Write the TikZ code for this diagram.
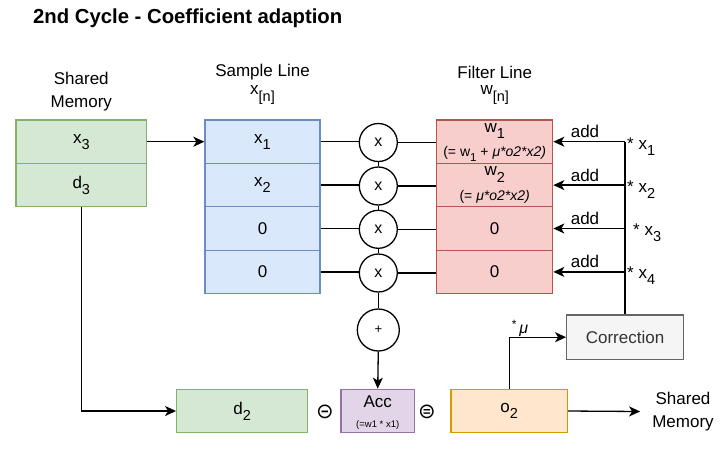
\documentclass[tikz,border=0pt]{standalone}
\usepackage{fontspec}
\setmainfont{Liberation Sans}
\newfontfamily\dejavu{DejaVu Sans}
\usetikzlibrary{arrows.meta}
\definecolor{gfill}{HTML}{D5E8D4}\definecolor{gdraw}{HTML}{82B366}
\definecolor{bfill}{HTML}{DAE8FC}\definecolor{bdraw}{HTML}{6C8EBF}
\definecolor{rfill}{HTML}{F8CECC}\definecolor{rdraw}{HTML}{B85450}
\definecolor{pfill}{HTML}{E1D5E7}\definecolor{pdraw}{HTML}{9673A6}
\definecolor{ofill}{HTML}{FFE6CC}\definecolor{odraw}{HTML}{D79B00}
\definecolor{kfill}{HTML}{F5F5F5}\definecolor{kdraw}{HTML}{666666}\definecolor{ktext}{HTML}{333333}
\newcommand\subs[2][14.5]{\raisebox{-0.36em}{\fontsize{#1}{#1}\selectfont #2}}
\begin{document}
\begin{tikzpicture}[x=1pt,y=-1pt,
  txt/.style={font=\fontsize{17}{22.5}\selectfont, align=center, inner sep=1pt},
  cell/.style={draw, line width=1.3pt, inner sep=0pt, minimum height=43.4pt, align=center, font=\fontsize{17}{22}\selectfont},
  gcell/.style={cell, fill=gfill, draw=gdraw, minimum width=130.7pt},
  bcell/.style={cell, fill=bfill, draw=bdraw, minimum width=115pt},
  rcell/.style={cell, fill=rfill, draw=rdraw, minimum width=116pt},
  mult/.style={circle, draw, line width=1.3pt, fill=white, minimum size=38pt, inner sep=0pt, font=\fontsize{16}{16}\selectfont},
  conn/.style={line width=1.3pt, draw=black},
  arr/.style={conn, -{Stealth[length=11pt,width=10pt,inset=3pt]}},
  sml/.style={font=\fontsize{14}{14}\selectfont}
]
\useasboundingbox (0,0) rectangle (727,448);
\node[anchor=west, inner sep=0pt, font=\bfseries\fontsize{20.3}{24}\selectfont] (title) at (33,18) {2nd Cycle - Coefficient adaption};

% headers
\node[txt] (hsm) at (81.3,91.5) {Shared\\Memory};
\node[txt] (hsl) at (262.5,72.5) {Sample Line};
\node[txt] (hslx) at (262.5,95) {x\subs{[n]}};
\node[txt] (hfl) at (494.7,72.5) {Filter Line};
\node[txt] (hflw) at (494.7,95) {w\subs{[n]}};

% shared memory
\node[gcell] (x3) at (81.3,141.7) {x\subs{3}};
\node[gcell] (d3) at (81.3,185) {d\subs{3}};

% sample line
\node[bcell] (s1) at (262.5,141.7) {x\subs{1}};
\node[bcell] (s2) at (262.5,185.1) {x\subs{2}};
\node[bcell] (s3) at (262.5,228.5) {0};
\node[bcell] (s4) at (262.5,271.9) {0};

% filter line
\node[rcell] (f1) at (494.7,141.7) {};
\node[txt] (f1a) at (494.7,131) {w\subs{1}};
\node[sml, inner sep=1pt] (f1b) at (494.7,153.5) {(= w\subs[11.5]{1} + \textit{μ*o2*x2)}};
\node[rcell] (f2) at (494.7,185.1) {};
\node[txt] (f2a) at (494.7,174.5) {w\subs{2}};
\node[sml, inner sep=1pt] (f2b) at (494.7,197) {(= \textit{μ*o2*x2)}};
\node[rcell] (f3) at (494.7,228.5) {0};
\node[rcell] (f4) at (494.7,271.9) {0};

% multipliers
\node[mult] (m1) at (378.3,142.5) {x};
\node[mult] (m2) at (378.3,186) {x};
\node[mult] (m3) at (378.3,229.3) {x};
\node[mult] (m4) at (378.3,273) {x};
\node[mult, minimum size=42pt, font=\fontsize{13}{13}\selectfont] (plus) at (378.3,330) {+};

% bottom row
\node[cell, fill=gfill, draw=gdraw, minimum width=131pt] (d2) at (242.2,411) {d\subs{2}};
\node[cell, fill=pfill, draw=pdraw, minimum width=73.3pt] (acc) at (377.7,411) {};
\node[txt] (acca) at (377.7,401.5) {Acc};
\node[inner sep=1pt, font=\fontsize{9.5}{10}\selectfont] (accb) at (377.7,425) {(=w1 * x1)};
\node[cell, fill=ofill, draw=odraw, minimum width=116.3pt] (o2) at (509.2,411) {o\subs{2}};
\node[cell, fill=kfill, draw=kdraw, text=ktext, minimum width=116.6pt, minimum height=44.3pt] (corr) at (625,337.2) {Correction};
\node[inner sep=0pt, font=\dejavu\fontsize{21}{21}\selectfont] (minus) at (325,412) {⊝};
\node[inner sep=0pt, font=\dejavu\fontsize{21}{21}\selectfont] (equal) at (427,412) {⊜};
\node[txt] (hsm2) at (683,411.5) {Shared\\Memory};

% connectors
\draw[arr] (x3.east) -- (s1.west);
\draw[arr] (d3.south) |- (d2.west);
\foreach \i in {1,2,3,4}{
  \draw[conn] (s\i.east) -- (s\i.east -| m\i.west);
  \draw[conn] (m\i.east) -- (m\i.east -| f\i.west);
}
\draw[conn] (m1.south) -- (m2.north);
\draw[conn] (m2.south) -- (m3.north);
\draw[conn] (m3.south) -- (m4.north);
\draw[conn] (m4.south) -- (plus.north);
\draw[arr] (plus.south) -- (acc.north);

\coordinate (b1) at (corr.north |- f1.east);
\draw[conn] (corr.north) -- (b1);
\foreach \i in {1,2,3,4}{
  \draw[arr] (corr.north |- f\i.east) -- (f\i.east);
}
\node[txt] (add1) at (585,131.5) {add};
\node[txt] (add2) at (585,175) {add};
\node[txt] (add3) at (585,218) {add};
\node[txt] (add4) at (585,261) {add};
\node[txt, anchor=west] (k1) at (626,147) {* x\subs{1}};
\node[txt, anchor=west] (k2) at (626,190) {* x\subs{2}};
\node[txt, anchor=west] (k3) at (632,233) {* x\subs{3}};
\node[txt, anchor=west] (k4) at (626,276) {* x\subs{4}};

\draw[arr] (o2.north) |- (corr.west);
\node[inner sep=0pt, font=\fontsize{16}{16}\selectfont] (mu) at (520,328) {\raisebox{0.3em}{\fontsize{12}{12}\selectfont *}\,\textit{μ}};
\draw[arr] (o2.east) -- ([xshift=-11pt]hsm2.west);
\end{tikzpicture}
\end{document}
